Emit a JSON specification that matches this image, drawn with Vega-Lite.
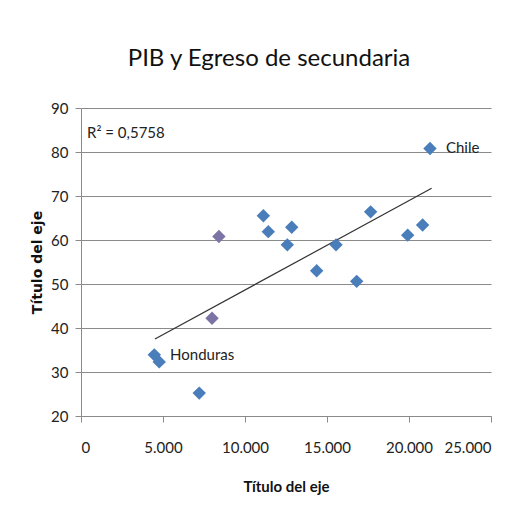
{
  "$schema": "https://vega.github.io/schema/vega-lite/v6.json",
  "width": 410,
  "height": 308,
  "autosize": "none",
  "padding": {"left": 81, "top": 108, "right": 25, "bottom": 108},
  "background": "white",
  "title": {
    "text": "PIB y Egreso de secundaria",
    "font": "Lato",
    "fontSize": 24,
    "fontWeight": "normal",
    "color": "#111111",
    "anchor": "middle",
    "offset": 30,
    "dx": -17
  },
  "config": {
    "view": {"stroke": null},
    "axis": {
      "labelFont": "Lato",
      "labelFontSize": 15,
      "labelColor": "#222222",
      "titleFont": "Lato",
      "titleColor": "#111111",
      "domainColor": "#8a8a8a",
      "tickColor": "#8a8a8a",
      "gridColor": "#8a8a8a",
      "gridOpacity": 1
    }
  },
  "datasets": {
    "points": [
      {"pib": 4470, "egreso": 33.9, "grupo": "a"},
      {"pib": 4770, "egreso": 32.3, "grupo": "a"},
      {"pib": 7210, "egreso": 25.2, "grupo": "a"},
      {"pib": 7990, "egreso": 42.2, "grupo": "b"},
      {"pib": 8410, "egreso": 60.8, "grupo": "b"},
      {"pib": 11120, "egreso": 65.5, "grupo": "a"},
      {"pib": 11420, "egreso": 61.9, "grupo": "a"},
      {"pib": 12580, "egreso": 58.9, "grupo": "a"},
      {"pib": 12850, "egreso": 62.9, "grupo": "a"},
      {"pib": 14370, "egreso": 53.0, "grupo": "a"},
      {"pib": 15550, "egreso": 58.9, "grupo": "a"},
      {"pib": 16810, "egreso": 50.6, "grupo": "a"},
      {"pib": 17660, "egreso": 66.4, "grupo": "a"},
      {"pib": 19920, "egreso": 61.1, "grupo": "a"},
      {"pib": 20830, "egreso": 63.4, "grupo": "a"},
      {"pib": 21280, "egreso": 80.8, "grupo": "a"}
    ],
    "trend": [
      {"pib": 4510, "egreso": 37.5},
      {"pib": 21380, "egreso": 71.75}
    ],
    "labels": [
      {"pib": 5430, "egreso": 33.9, "texto": "Honduras"},
      {"pib": 22250, "egreso": 80.8, "texto": "Chile"},
      {"pib": 370, "egreso": 84.3, "texto": "R² = 0,5758"}
    ]
  },
  "layer": [
    {
      "data": {"name": "trend"},
      "mark": {"type": "line", "color": "#333333", "strokeWidth": 1.2},
      "encoding": {
        "x": {
          "field": "pib",
          "type": "quantitative",
          "scale": {"domain": [0, 25000], "nice": false},
          "axis": {
            "values": [0, 5000, 10000, 15000, 20000, 25000],
            "labelExpr": "replace(format(datum.value, ','), ',', '.')",
            "grid": false,
            "tickSize": 6,
            "labelPadding": 18,
            "title": "Título del eje",
            "titleFontSize": 15,
            "titleFontWeight": "bold",
            "titlePadding": 24
          }
        },
        "y": {
          "field": "egreso",
          "type": "quantitative",
          "scale": {"domain": [20, 90], "nice": false, "zero": false},
          "axis": {
            "values": [20, 30, 40, 50, 60, 70, 80, 90],
            "grid": true,
            "tickSize": 6,
            "labelPadding": 7,
            "title": "Título del eje",
            "titleFont": "DejaVu Sans",
            "titleFontSize": 14,
            "titleFontWeight": "bold",
            "titlePadding": 6
          }
        }
      }
    },
    {
      "data": {"name": "points"},
      "mark": {"type": "point", "shape": "diamond", "filled": true, "size": 180, "opacity": 1},
      "encoding": {
        "x": {"field": "pib", "type": "quantitative"},
        "y": {"field": "egreso", "type": "quantitative"},
        "color": {
          "field": "grupo",
          "type": "nominal",
          "scale": {"domain": ["a", "b"], "range": ["#4a7ebb", "#7c74a4"]},
          "legend": null
        }
      }
    },
    {
      "data": {"name": "labels"},
      "mark": {"type": "text", "align": "left", "baseline": "middle", "font": "Lato", "fontSize": 15, "color": "#222222"},
      "encoding": {
        "x": {"field": "pib", "type": "quantitative"},
        "y": {"field": "egreso", "type": "quantitative"},
        "text": {"field": "texto"}
      }
    }
  ]
}
